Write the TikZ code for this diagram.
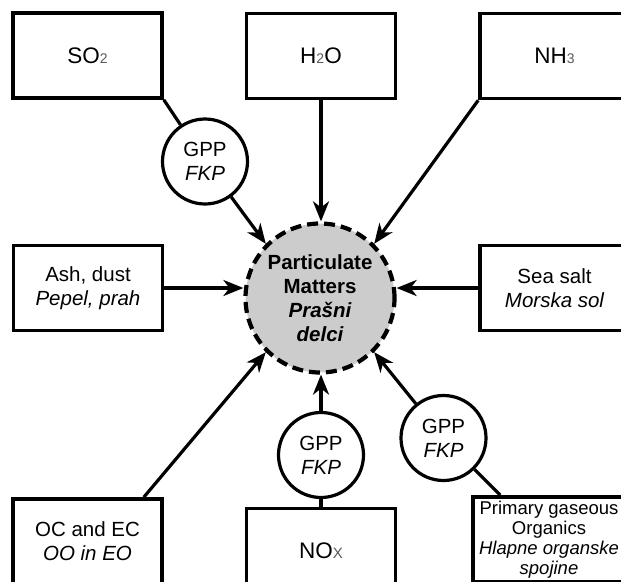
\documentclass[tikz,border=0pt]{standalone}
\usepackage{fontspec}
\setmainfont{Liberation Sans}
\usetikzlibrary{arrows.meta}
\tikzset{
 box/.style={draw, line width=3.6pt, minimum width=149pt, minimum height=85pt, inner sep=0pt, align=center, font=\fontsize{20.5}{24}\selectfont},
 bigbox/.style={box, font=\fontsize{22.5}{26}\selectfont},
 gpp/.style={circle, draw, line width=3.2pt, minimum size=85pt, inner sep=0pt, align=center, font=\fontsize{20.5}{24}\selectfont, fill=white},
 pmnode/.style={circle, draw, dash pattern=on 11pt off 6pt, line width=4.2pt, fill=black!20, minimum size=149pt, inner sep=0pt, align=center, font=\bfseries\fontsize{20.5}{24}\selectfont},
 conn/.style={line width=3.2pt},
 arr/.style={conn, -{Stealth[length=20pt,width=16pt,inset=6pt]}},
}
\newcommand{\lsub}[1]{{\fontsize{14}{14}\selectfont\textcolor{black!65}{#1}}}
\begin{document}
\begin{tikzpicture}[x=1pt,y=-1pt]
\useasboundingbox (0,0) rectangle (621,581);
\fill[white] (0,0) rectangle (621,581);
\clip (0,0) rectangle (621,581);
\node[bigbox] (so2) at (87.5,55.5) {SO\lsub{2}};
\node[bigbox] (h2o) at (321,56) {H\lsub{2}O};
\node[bigbox] (nh3) at (554.5,56) {NH\lsub{3}};
\node[box] (ash) at (88,288) {Ash, dust\\\itshape Pepel, prah};
\node[box] (sea) at (554.5,288) {Sea salt\\\itshape Morska sol};
\node[box] (oc) at (87.5,541.5) {OC and EC\\\itshape OO in EO};
\node[bigbox] (nox) at (321,551) {NO{\fontsize{15}{15}\selectfont\textcolor{black!65}{X}}};
\node[box, minimum width=152pt, font=\fontsize{18.5}{20}\selectfont] (prim) at (549,539.5) {Primary gaseous\\Organics\\\itshape Hlapne organske\\\itshape spojine};
\node[pmnode] (pm) at (320,298) {Particulate\\Matters\\\itshape Prašni\\\itshape delci};
\node[gpp] (g1) at (205,161.5) {GPP\\\itshape FKP};
\node[gpp] (g2) at (321,455) {GPP\\\itshape FKP};
\node[gpp] (g3) at (443.5,438) {GPP\\\itshape FKP};
\draw[conn] (so2.south east) -- (g1);
\draw[arr] (g1) -- (pm.135);
\draw[arr] (h2o.south) -- (h2o.south |- pm.north);
\draw[arr] (nh3.south west) -- (pm.45);
\draw[arr] (ash.east) -- (ash.east -| pm.west);
\draw[arr] (sea.west) -- (sea.west -| pm.east);
\draw[arr] ([xshift=-20pt]oc.north east) -- (pm.225);
\draw[conn] (nox.north) -- (g2.south);
\draw[arr] (g2.north) -- (g2.north |- pm.south);
\draw[conn] ([xshift=29pt]prim.north west) -- (g3);
\draw[arr] (g3) -- (pm.-45);
\end{tikzpicture}
\end{document}
